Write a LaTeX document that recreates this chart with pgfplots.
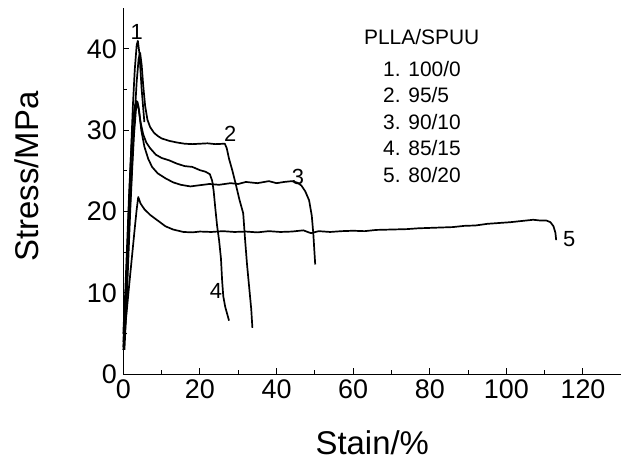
\documentclass[border=0pt]{standalone}
\usepackage{fontspec}
\setmainfont{Liberation Sans}
\usepackage{pgfplots}
\pgfplotsset{compat=1.18}
\begin{document}
\begin{tikzpicture}
\useasboundingbox (-123.3bp,-86.7bp) rectangle (501.7bp,374.3bp);
\begin{axis}[
  at={(0,0)}, anchor=south west,
  scale only axis, width=498bp, height=366bp,
  xmin=0, xmax=130, ymin=0, ymax=45,
  axis x line*=bottom, axis y line*=left,
  axis line style={line width=1.2bp, -},
  xtick={0,20,...,120}, ytick={0,10,...,40},
  minor tick num=1,
  tick align=inside,
  major tick length=6bp, minor tick length=4bp,
  tick style={line width=1bp, black},
  /pgf/number format/assume math mode=true,
  ticklabel style={font=\fontsize{27}{27}\selectfont},
  xticklabel style={yshift=-2bp},
  yticklabel style={xshift=-3bp},
  xlabel={Stain/\%}, ylabel={Stress/MPa},
  xlabel style={font=\fontsize{33}{33}\selectfont, anchor=center, at={(axis description cs:0.5,-0.188)}},
  ylabel style={font=\fontsize{33}{33}\selectfont, anchor=center, rotate=0, at={(axis description cs:-0.193,0.54)}},
  clip=false,
  cycle list={{black}},
  every axis plot/.append style={line width=1.7bp, no markers, line join=round},
]
% curve 1
\addplot coordinates {(0,4) (0.5,8) (1,14) (1.5,21) (2,27) (2.5,33) (3,37.5) (3.5,40.5) (3.8,41) (4.2,39.5) (4.8,35) (5.5,31)};
% curve 2
\addplot coordinates {(0,3) (0.5,7) (1,12) (1.5,18) (2,23) (2.5,28) (3,32) (3.5,36) (4,38.8) (4.4,39.5) (4.8,38) (5.2,35.5) (5.7,33) (6.3,31.3) (7,30.4) (8,29.7) (9,29.3) (10,29) (12,28.7) (14,28.5) (16,28.35) (18,28.3) (20,28.35) (22,28.4) (24,28.3) (26.5,28.35) (27,27.8) (27.6,26.5) (28.5,25) (29.3,23.5) (30.3,21.5) (31.3,19.8) (31.8,16.5) (32.3,13.5) (32.9,10.5) (33.4,8) (33.7,5.7)};
% curve 3
\addplot coordinates {(0.3,3) (0.8,8) (1.3,14) (1.8,20) (2.3,25) (2.8,29.5) (3.3,32.5) (3.7,33.5) (4.1,32.5) (4.7,30) (5.5,28) (6.5,26.5) (7.5,25.5) (9,24.7) (11,24.1) (13,23.6) (15,23.3) (17.5,23.1) (20,23.25) (22.5,23.4) (25,23.3) (28,23.5) (30,23.4) (32,23.65) (35,23.5) (38,23.75) (40,23.5) (42,23.65) (44,23.75) (45.5,23.55) (46.5,23.2) (47.5,22.5) (48.5,21.4) (49.2,19.5) (49.6,17.3) (49.9,15) (50.1,13.5)};
% curve 4
\addplot coordinates {(0,5) (0.5,10) (1,16) (1.5,22) (2,27) (2.5,31) (3,33) (3.5,33.6) (3.9,33) (4.5,31) (5.2,29.5) (6,28.5) (7,27.8) (8.5,27) (10,26.6) (12,26.3) (14,25.9) (16,25.6) (18,25.5) (20,25.1) (21.5,24.9) (22.6,24.6) (23.2,23.8) (23.6,22.5) (24,20.5) (24.5,18.2) (25,16.5) (25.5,14.2) (25.8,11.5) (26.1,9.6) (26.6,8.3) (27.6,6.6)};
% curve 5
\addplot coordinates {(0,3.4) (0.5,5.8) (1,8.3) (1.5,10.8) (2,13.2) (2.5,15.6) (3,18) (3.5,20.3) (3.9,21.8) (4.5,21) (5.5,20.3) (7,19.6) (9,18.9) (11,18.2) (13,17.8) (15.7,17.5) (18,17.45) (20,17.55) (23,17.5) (26,17.6) (29,17.5) (32,17.55) (35,17.45) (38,17.6) (41,17.5) (44,17.55) (47,17.7) (49,17.35) (51,17.6) (54,17.5) (57,17.6) (60,17.65) (63,17.6) (66,17.75) (70,17.8) (74,17.85) (77,17.95) (80,18.0) (83,18.05) (86,18.1) (89,18.25) (92,18.3) (95,18.5) (98,18.6) (101,18.7) (104,18.85) (107,19.0) (109,18.9) (110.5,18.9) (111.5,18.7) (112.3,18.2) (112.8,17.4) (113,16.5)};
\node[font=\fontsize{22}{22}\selectfont] at (axis cs:3.5,42.1) {1};
\node[font=\fontsize{22}{22}\selectfont] at (axis cs:27.9,29.6) {2};
\node[font=\fontsize{22}{22}\selectfont] at (axis cs:45.6,24.3) {3};
\node[font=\fontsize{22}{22}\selectfont] at (axis cs:24.2,10.2) {4};
\node[font=\fontsize{22}{22}\selectfont] at (axis cs:116.4,16.6) {5};
\node[font=\fontsize{21}{21}\selectfont] at (axis cs:77.9,41.5) {PLLA/SPUU};
\node[font=\fontsize{21}{21}\selectfont, anchor=west, inner sep=0pt] at (axis cs:67.8,37.5) {1. 100/0};
\node[font=\fontsize{21}{21}\selectfont, anchor=west, inner sep=0pt] at (axis cs:67.8,34.3) {2. 95/5};
\node[font=\fontsize{21}{21}\selectfont, anchor=west, inner sep=0pt] at (axis cs:67.8,31.05) {3. 90/10};
\node[font=\fontsize{21}{21}\selectfont, anchor=west, inner sep=0pt] at (axis cs:67.8,27.8) {4. 85/15};
\node[font=\fontsize{21}{21}\selectfont, anchor=west, inner sep=0pt] at (axis cs:67.8,24.5) {5. 80/20};
\end{axis}
\end{tikzpicture}
\end{document}
